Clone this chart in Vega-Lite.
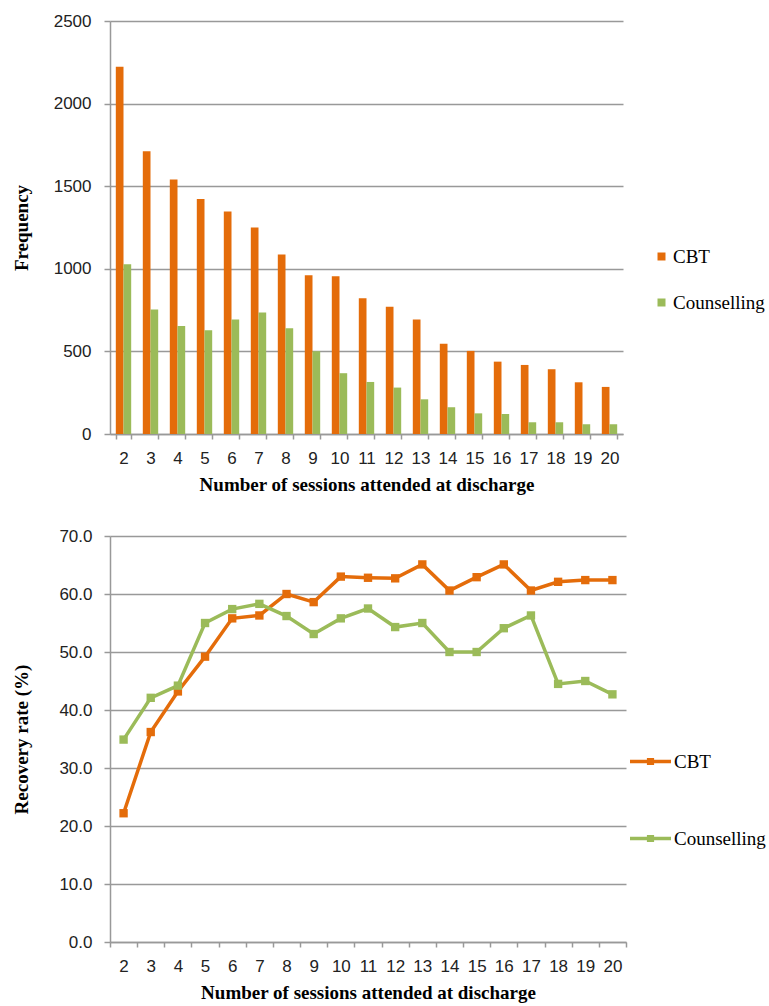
{
  "$schema": "https://vega.github.io/schema/vega-lite/v6.json",
  "padding": {"left": 12, "top": 12, "right": 2, "bottom": 2},
  "spacing": 33,
  "datasets": {
    "d": [
      {"sessions": 2, "therapy": "CBT", "frequency": 2223, "recovery": 22.2},
      {"sessions": 3, "therapy": "CBT", "frequency": 1712, "recovery": 36.2},
      {"sessions": 4, "therapy": "CBT", "frequency": 1541, "recovery": 43.2},
      {"sessions": 5, "therapy": "CBT", "frequency": 1422, "recovery": 49.2},
      {"sessions": 6, "therapy": "CBT", "frequency": 1347, "recovery": 55.8},
      {"sessions": 7, "therapy": "CBT", "frequency": 1250, "recovery": 56.3},
      {"sessions": 8, "therapy": "CBT", "frequency": 1086, "recovery": 60.0},
      {"sessions": 9, "therapy": "CBT", "frequency": 961, "recovery": 58.6},
      {"sessions": 10, "therapy": "CBT", "frequency": 955, "recovery": 63.0},
      {"sessions": 11, "therapy": "CBT", "frequency": 822, "recovery": 62.8},
      {"sessions": 12, "therapy": "CBT", "frequency": 771, "recovery": 62.7},
      {"sessions": 13, "therapy": "CBT", "frequency": 693, "recovery": 65.1},
      {"sessions": 14, "therapy": "CBT", "frequency": 547, "recovery": 60.6},
      {"sessions": 15, "therapy": "CBT", "frequency": 503, "recovery": 62.9},
      {"sessions": 16, "therapy": "CBT", "frequency": 438, "recovery": 65.1},
      {"sessions": 17, "therapy": "CBT", "frequency": 418, "recovery": 60.6},
      {"sessions": 18, "therapy": "CBT", "frequency": 392, "recovery": 62.1},
      {"sessions": 19, "therapy": "CBT", "frequency": 313, "recovery": 62.4},
      {"sessions": 20, "therapy": "CBT", "frequency": 285, "recovery": 62.4},
      {"sessions": 2, "therapy": "Counselling", "frequency": 1028, "recovery": 34.9},
      {"sessions": 3, "therapy": "Counselling", "frequency": 753, "recovery": 42.1},
      {"sessions": 4, "therapy": "Counselling", "frequency": 654, "recovery": 44.2},
      {"sessions": 5, "therapy": "Counselling", "frequency": 628, "recovery": 55.0},
      {"sessions": 6, "therapy": "Counselling", "frequency": 693, "recovery": 57.4},
      {"sessions": 7, "therapy": "Counselling", "frequency": 735, "recovery": 58.3},
      {"sessions": 8, "therapy": "Counselling", "frequency": 640, "recovery": 56.2},
      {"sessions": 9, "therapy": "Counselling", "frequency": 501, "recovery": 53.1},
      {"sessions": 10, "therapy": "Counselling", "frequency": 368, "recovery": 55.8},
      {"sessions": 11, "therapy": "Counselling", "frequency": 315, "recovery": 57.5},
      {"sessions": 12, "therapy": "Counselling", "frequency": 281, "recovery": 54.3},
      {"sessions": 13, "therapy": "Counselling", "frequency": 210, "recovery": 55.0},
      {"sessions": 14, "therapy": "Counselling", "frequency": 162, "recovery": 50.0},
      {"sessions": 15, "therapy": "Counselling", "frequency": 125, "recovery": 50.0},
      {"sessions": 16, "therapy": "Counselling", "frequency": 121, "recovery": 54.1},
      {"sessions": 17, "therapy": "Counselling", "frequency": 71, "recovery": 56.3},
      {"sessions": 18, "therapy": "Counselling", "frequency": 71, "recovery": 44.5},
      {"sessions": 19, "therapy": "Counselling", "frequency": 59, "recovery": 45.0},
      {"sessions": 20, "therapy": "Counselling", "frequency": 59, "recovery": 42.7}
    ]
  },
  "vconcat": [
    {
      "width": 513,
      "height": 413,
      "data": {"name": "d"},
      "mark": {"type": "bar"},
      "encoding": {
        "x": {
          "field": "sessions",
          "type": "ordinal",
          "scale": {"paddingInner": 0.43, "paddingOuter": 0.215},
          "axis": {
            "title": "Number of sessions attended at discharge",
            "labelAngle": 0,
            "tickBand": "extent",
            "tickSize": 5,
            "labelPadding": 11,
            "titlePadding": 9
          }
        },
        "xOffset": {"field": "therapy", "sort": ["CBT", "Counselling"]},
        "y": {
          "field": "frequency",
          "type": "quantitative",
          "scale": {"domain": [0, 2500]},
          "axis": {
            "title": "Frequency",
            "values": [0, 500, 1000, 1500, 2000, 2500],
            "format": "d",
            "grid": true,
            "tickSize": 6,
            "labelPadding": 13,
            "minExtent": 60,
            "maxExtent": 60,
            "titlePadding": 19
          }
        },
        "color": {
          "field": "therapy",
          "type": "nominal",
          "scale": {"domain": ["CBT", "Counselling"], "range": ["#E46C0A", "#9BBB59"]},
          "legend": {
            "title": null,
            "orient": "none",
            "legendX": 542,
            "legendY": 226,
            "symbolType": "square",
            "symbolSize": 64,
            "rowPadding": 26,
            "labelOffset": 2
          }
        }
      }
    },
    {
      "width": 516,
      "height": 406,
      "data": {"name": "d"},
      "mark": {"type": "line", "strokeWidth": 3.5, "point": {"shape": "square", "size": 70, "filled": true}},
      "encoding": {
        "x": {
          "field": "sessions",
          "type": "ordinal",
          "bandPosition": 0.5,
          "scale": {"type": "band", "paddingInner": 0, "paddingOuter": 0},
          "axis": {
            "title": "Number of sessions attended at discharge",
            "labelAngle": 0,
            "tickBand": "extent",
            "tickSize": 5,
            "labelPadding": 11,
            "titlePadding": 9
          }
        },
        "y": {
          "field": "recovery",
          "type": "quantitative",
          "scale": {"domain": [0, 70]},
          "axis": {
            "title": "Recovery rate (%)",
            "values": [0, 10, 20, 30, 40, 50, 60, 70],
            "format": ".1f",
            "grid": true,
            "tickSize": 6,
            "labelPadding": 12,
            "minExtent": 60,
            "maxExtent": 60,
            "titlePadding": 19
          }
        },
        "color": {
          "field": "therapy",
          "type": "nominal",
          "scale": {"domain": ["CBT", "Counselling"], "range": ["#E46C0A", "#9BBB59"]},
          "legend": {
            "title": null,
            "orient": "none",
            "legendX": 518,
            "legendY": 203,
            "symbolType": "M-1,0H1M-0.09,-0.09H0.09V0.09H-0.09Z",
            "symbolSize": 1681,
            "symbolStrokeWidth": 3.5,
            "rowPadding": 44,
            "labelOffset": 1
          }
        }
      }
    }
  ],
  "resolve": {"scale": {"color": "independent"}, "legend": {"color": "independent"}},
  "config": {
    "view": {"stroke": null},
    "axis": {
      "labelFont": "Liberation Sans",
      "labelFontSize": 17,
      "labelColor": "#222222",
      "titleFont": "Liberation Serif",
      "titleFontSize": 19,
      "titleFontWeight": "bold",
      "titleColor": "#000000",
      "domainColor": "#999999",
      "domainWidth": 1.5,
      "tickColor": "#999999",
      "tickWidth": 1.5,
      "gridColor": "#999999",
      "gridWidth": 1.5
    },
    "legend": {
      "labelFont": "Liberation Serif",
      "labelFontSize": 19,
      "labelColor": "#000000"
    }
  }
}
